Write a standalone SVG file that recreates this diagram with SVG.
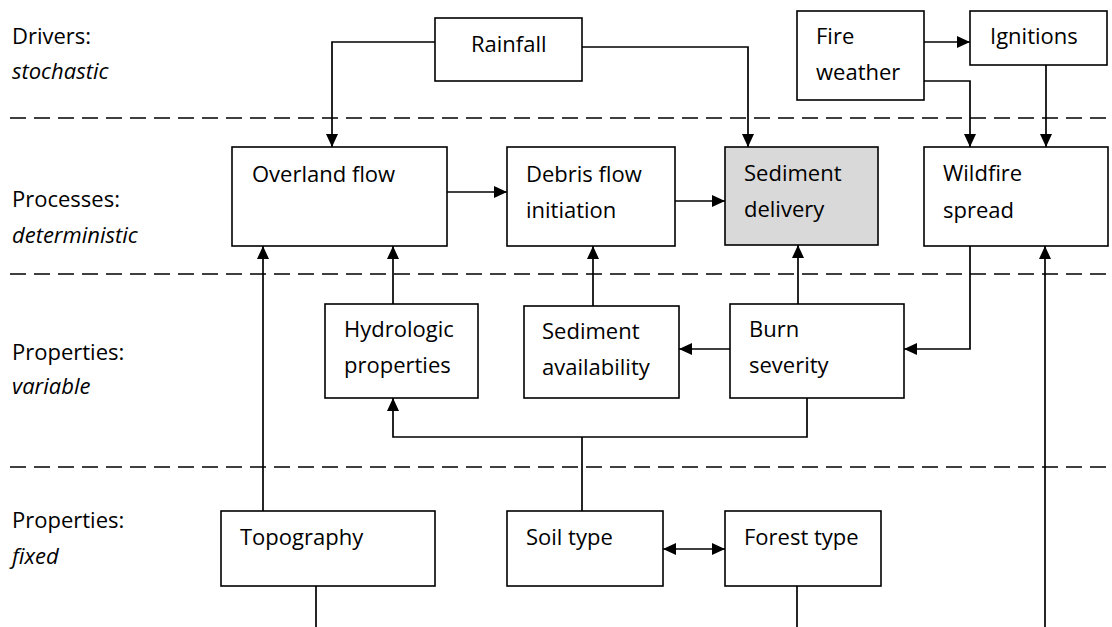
<svg xmlns="http://www.w3.org/2000/svg" width="1112" height="627" viewBox="0 0 1112 627">
<style>
.box{fill:#fff;stroke:#000;stroke-width:1.6}
.grey{fill:#d9d9d9}
.t{font-family:"Open Sans","Noto Sans",sans-serif;font-size:22px;fill:#000}
.i{font-style:italic}
.c{fill:none;stroke:#000;stroke-width:1.7}
.a{marker-end:url(#ah)}
.dash{stroke:#000;stroke-width:1.6;stroke-dasharray:16 8}
</style>
<defs>
<marker id="ah" markerUnits="userSpaceOnUse" markerWidth="14" markerHeight="13" refX="13" refY="6" orient="auto">
<path d="M0,0 L13,6 L0,12 z" fill="#000"/>
</marker>
<marker id="as" markerUnits="userSpaceOnUse" markerWidth="14" markerHeight="13" refX="13" refY="6" orient="auto-start-reverse">
<path d="M0,0 L13,6 L0,12 z" fill="#000"/>
</marker>
</defs>
<g id="bands">
<line class="dash" x1="10" y1="118" x2="1112" y2="118"/>
<line class="dash" x1="10" y1="274" x2="1112" y2="274"/>
<line class="dash" x1="10" y1="467" x2="1112" y2="467"/>
<text class="t" x="12" y="44">Drivers:</text>
<text class="t i" x="12" y="79">stochastic</text>
<text class="t" x="12" y="207">Processes:</text>
<text class="t i" x="12" y="243">deterministic</text>
<text class="t" x="12" y="360">Properties:</text>
<text class="t i" x="12" y="394">variable</text>
<text class="t" x="12" y="528">Properties:</text>
<text class="t i" x="12" y="564">fixed</text>
</g>
<g id="connectors">
<path class="c a" d="M435,42 H332 V147"/>
<path class="c a" d="M582,47 H748 V147"/>
<path class="c a" d="M447,192 H507"/>
<path class="c a" d="M675,201 H725"/>
<path class="c a" d="M924,42 H970"/>
<path class="c a" d="M924,81 H970 V147"/>
<path class="c a" d="M1046,65 V147"/>
<path class="c a" d="M970,246 V349 H904"/>
<path class="c a" d="M730,349 H679"/>
<path class="c a" d="M393,304 V246"/>
<path class="c a" d="M593,306 V246"/>
<path class="c a" d="M798,304 V245"/>
<path class="c a" d="M263,511 V246"/>
<path class="c a" d="M807,398 V437 H393 V398"/>
<path class="c" d="M582,511 V437"/>
<path class="c" d="M663,549 H725" marker-start="url(#as)" marker-end="url(#ah)"/>
<path class="c" d="M316,586 V627"/>
<path class="c" d="M797,586 V627"/>
<path class="c a" d="M1045,627 V246"/>
</g>
<g id="rainfall"><rect class="box" x="435" y="18" width="147" height="63"/><text class="t" x="471" y="52">Rainfall</text></g>
<g id="fire-weather"><rect class="box" x="797" y="11" width="127" height="89"/><text class="t" x="816" y="44">Fire</text><text class="t" x="816" y="80">weather</text></g>
<g id="ignitions"><rect class="box" x="970" y="11" width="137" height="54"/><text class="t" x="990" y="44">Ignitions</text></g>
<g id="overland-flow"><rect class="box" x="232" y="147" width="215" height="99"/><text class="t" x="252" y="182">Overland flow</text></g>
<g id="debris-flow"><rect class="box" x="507" y="147" width="168" height="99"/><text class="t" x="526" y="182">Debris flow</text><text class="t" x="526" y="218">initiation</text></g>
<g id="sediment-delivery"><rect class="box grey" x="725" y="147" width="153" height="98"/><text class="t" x="744" y="181">Sediment</text><text class="t" x="744" y="217">delivery</text></g>
<g id="wildfire-spread"><rect class="box" x="924" y="147" width="184" height="99"/><text class="t" x="943" y="181">Wildfire</text><text class="t" x="943" y="218">spread</text></g>
<g id="hydrologic"><rect class="box" x="325" y="304" width="153" height="94"/><text class="t" x="344" y="337">Hydrologic</text><text class="t" x="344" y="373">properties</text></g>
<g id="sediment-availability"><rect class="box" x="524" y="306" width="155" height="92"/><text class="t" x="542" y="339">Sediment</text><text class="t" x="542" y="375">availability</text></g>
<g id="burn-severity"><rect class="box" x="730" y="304" width="174" height="94"/><text class="t" x="749" y="337">Burn</text><text class="t" x="749" y="373">severity</text></g>
<g id="topography"><rect class="box" x="221" y="511" width="214" height="75"/><text class="t" x="240" y="545">Topography</text></g>
<g id="soil-type"><rect class="box" x="507" y="511" width="156" height="75"/><text class="t" x="526" y="545">Soil type</text></g>
<g id="forest-type"><rect class="box" x="725" y="511" width="156" height="75"/><text class="t" x="744" y="545">Forest type</text></g>
</svg>
